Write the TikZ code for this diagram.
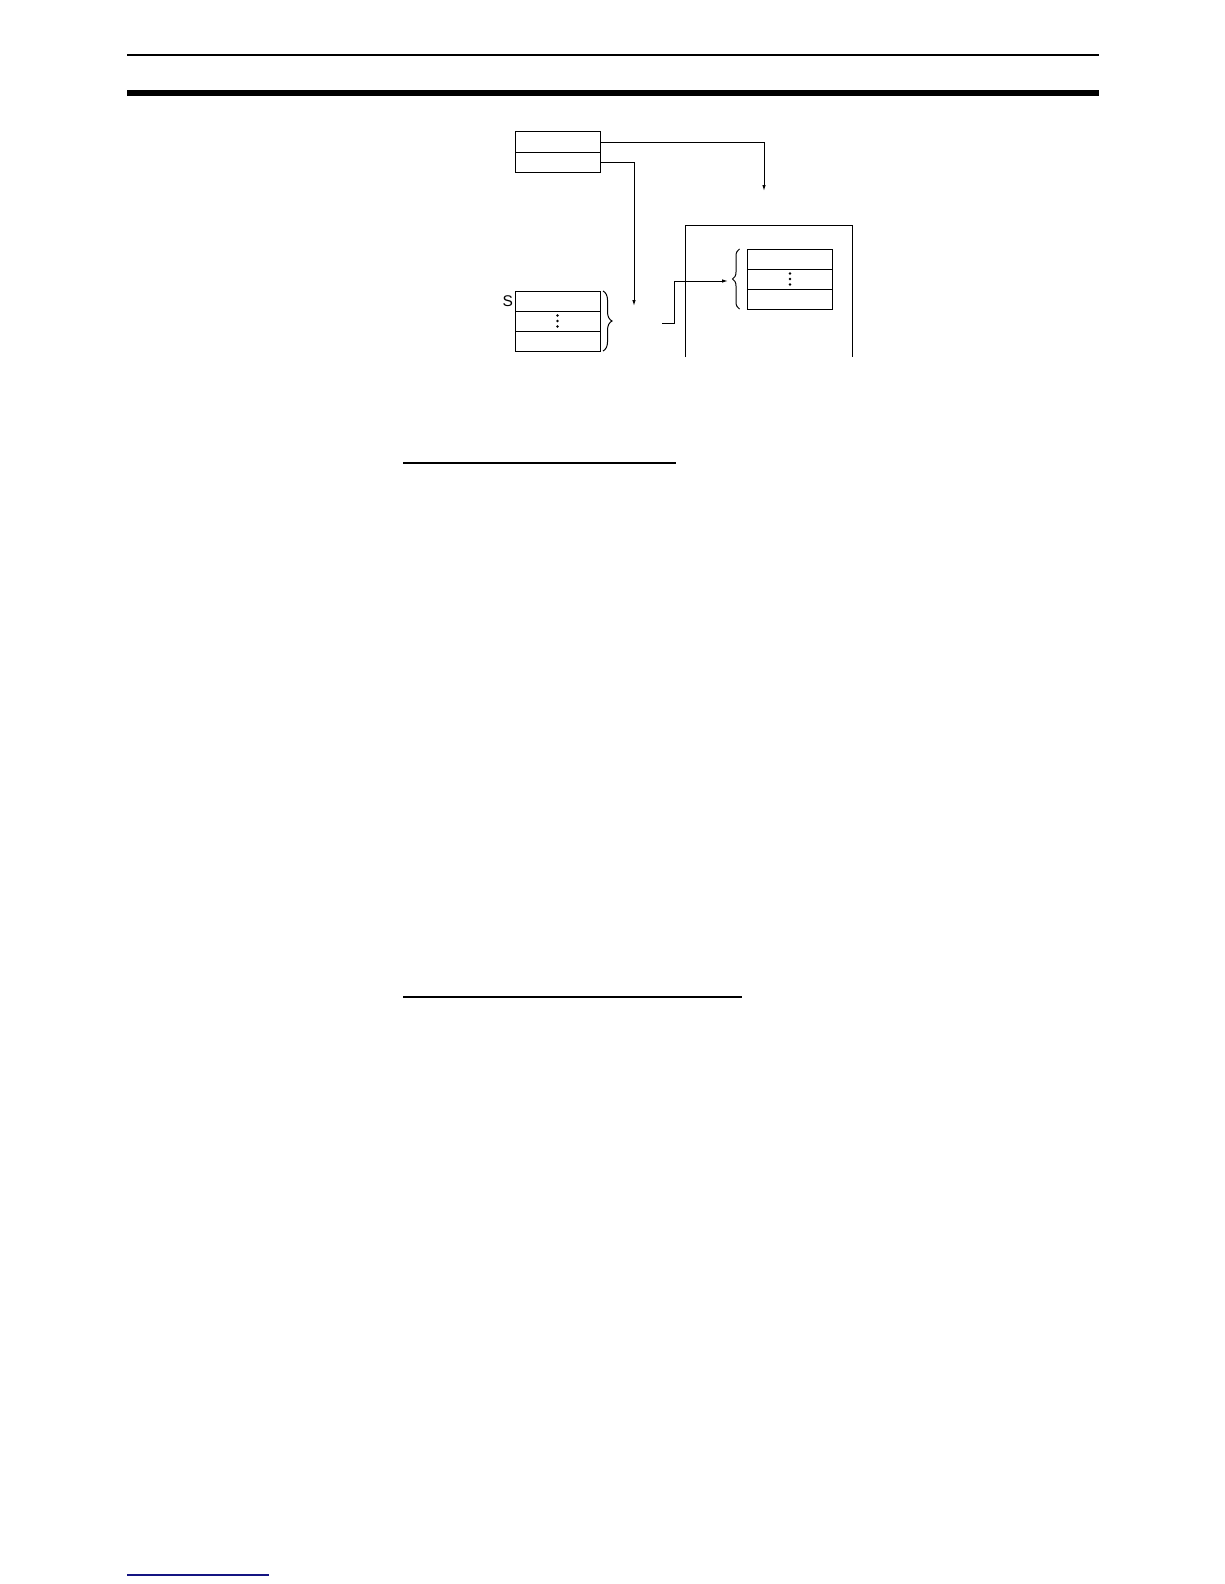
\documentclass[tikz,border=0pt]{standalone}
\usepackage{fontspec}
\setmainfont{Liberation Sans}
\usetikzlibrary{arrows.meta,decorations.pathreplacing,positioning}
\definecolor{footblue}{RGB}{20,20,130}
\begin{document}
\begin{tikzpicture}[x=1pt,y=-1pt,
    every node/.style={inner sep=0pt,outer sep=0pt},
    cell/.style={draw,line width=1pt,minimum width=85pt,minimum height=20pt},
    wire/.style={line width=1pt},
    link/.style={wire,-{Latex[length=6pt,width=3.5pt]}},
    rule/.style={line width=1.3pt}]
    \useasboundingbox (0,0) rectangle (1224,1584);
    % page rules
    \draw [rule] (127,55) -- (1099,55);
    \fill (127,90) rectangle (1099,96);
    \draw [rule] (403,463) -- (676,463);
    \draw [rule] (403,997) -- (742,997);
    \draw [rule,footblue] (127,1575) -- (269,1575);
    % word pair
    \node [cell] (wa) at (557.5,142) {};
    \node [cell,below=0pt of wa] (wb) {};
    % source block
    \node [cell] (sa) at (557.5,301) {};
    \node [cell,below=0pt of sa] (sb) {};
    \node [cell,below=0pt of sb] (sc) {};
    \node [anchor=east,font=\fontsize{15.5}{18}\selectfont] (slabel) at ([xshift=-2pt]sa.west) {S};
    \foreach \d in {-5.5,0,5.5}
        \fill ([yshift=\d pt]sb.center) circle (1.3pt);
    \draw [wire,decorate,decoration={brace,amplitude=9pt}] ([xshift=3pt]sa.north east) -- ([xshift=3pt]sc.south east);
    % destination frame
    \draw [wire] (685,357) |- (852,225) -- (852,357);
    \node [cell] (da) at (790,259) {};
    \node [cell,below=0pt of da] (db) {};
    \node [cell,below=0pt of db] (dc) {};
    \foreach \d in {-5.5,0,5.5}
        \fill ([yshift=\d pt]db.center) circle (1.3pt);
    \draw [wire,decorate,decoration={brace,amplitude=7pt}] ([xshift=-8pt]dc.south west) -- ([xshift=-8pt]da.north west);
    % connectors
    \coordinate (tipa) at (764,191);
    \coordinate (tipb) at (634,306);
    \coordinate (feed) at (662,323);
    \coordinate (tipc) at (728,281);
    \draw [link] (wa.east) -| (tipa);
    \draw [link] (wb.east) -| (tipb);
    \draw [link] (feed) -- ++(12,0) |- (tipc);
\end{tikzpicture}
\end{document}
